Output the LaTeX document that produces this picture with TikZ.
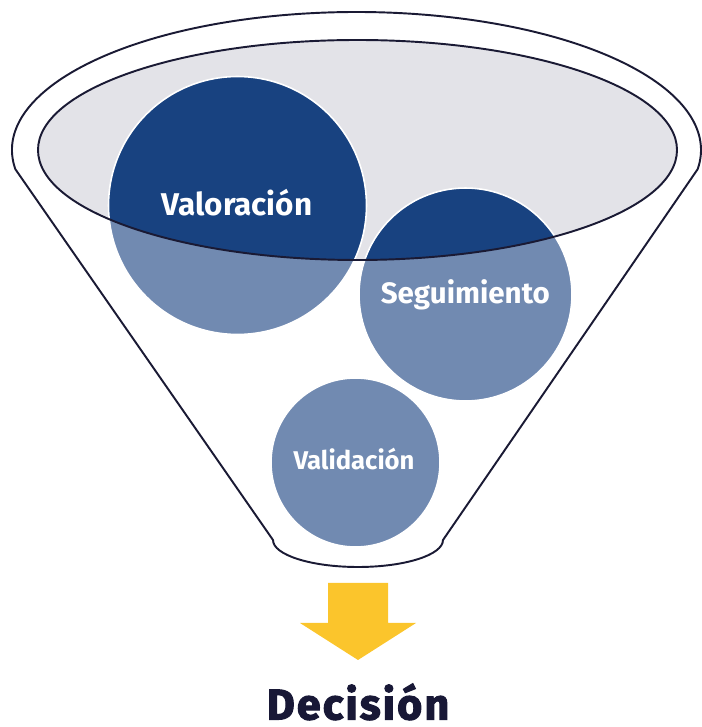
\documentclass[tikz,border=0pt]{standalone}
\usepackage{fontspec}
\setmainfont{Fira Sans}
\newfontfamily\decfont{Fira Sans}[BoldFeatures={FakeBold=2.5,LetterSpace=5}]
\usepackage{tikz}
\usetikzlibrary{positioning,calc}
\definecolor{darkblue}{RGB}{24,66,128}
\definecolor{lightblue}{RGB}{113,138,177}
\definecolor{rimgray}{RGB}{227,227,232}
\definecolor{inkline}{RGB}{26,26,52}
\definecolor{arrowyellow}{RGB}{251,197,44}
\definecolor{decnavy}{RGB}{24,24,54}

\begin{document}
\begin{tikzpicture}[
      x=0.02cm, y=0.02cm,
      rim line/.style={
         draw=inkline,
         line width=1.1pt
      },
      bubble/.style={
         circle,
         fill=lightblue,
         draw=white,
         line width=0.9pt,
         inner sep=0pt,
         path picture={\fill[darkblue] (rim) ellipse[x radius=319.5, y radius=110];}
      },
      bubble text/.style={
         anchor=base,
         text=white,
         font=\bfseries
      }
    ]
    \useasboundingbox (0,0) rectangle (702,727);
    \coordinate (funnel) at (356.5,577);
    \coordinate (rim) at (357.5,577);
    \coordinate (spout) at (358,187);
    % funnel outline
    \draw[rim line] (funnel) ++(188:344.5 and 138)
       arc[start angle=188, end angle=-8, x radius=344.5, y radius=138]
       -- ($(spout)+(85,0)$)
       arc[start angle=0, end angle=-180, x radius=85, y radius=27] -- cycle;
    \fill[rimgray] (rim) ellipse[x radius=319.5, y radius=110];
    \node (n1) [bubble, minimum size=5.16cm] at (237.5,521.5) {};
    \node (n2) [bubble, minimum size=4.26cm] at (465.5,432.5) {};
    \node (n3) [bubble, minimum size=3.38cm] at (355.5,264.5) {};
    \draw[rim line] (rim) ellipse[x radius=319.5, y radius=110];
    \node (t1) [bubble text, font=\bfseries\fontsize{17.9}{20}\selectfont] at (237,511.3) {Valoración};
    \node (t2) [bubble text, font=\bfseries\fontsize{16.8}{19}\selectfont] at (465.3,423) {Seguimiento};
    \node (t3) [bubble text, font=\bfseries\fontsize{14.6}{17}\selectfont] at (354,257) {Validación};
    % arrow to the decision
    \fill[arrowyellow] (328,144) -- (388,144) -- (388,104) -- (416,104)
       -- (358,67) -- (300,104) -- (328,104) -- cycle;
    \node (dec) [anchor=base, inner sep=1pt, text=decnavy, font=\decfont\bfseries\fontsize{24.5}{28}\selectfont] at (358,7.5) {Decisión};
\end{tikzpicture}
\end{document}
